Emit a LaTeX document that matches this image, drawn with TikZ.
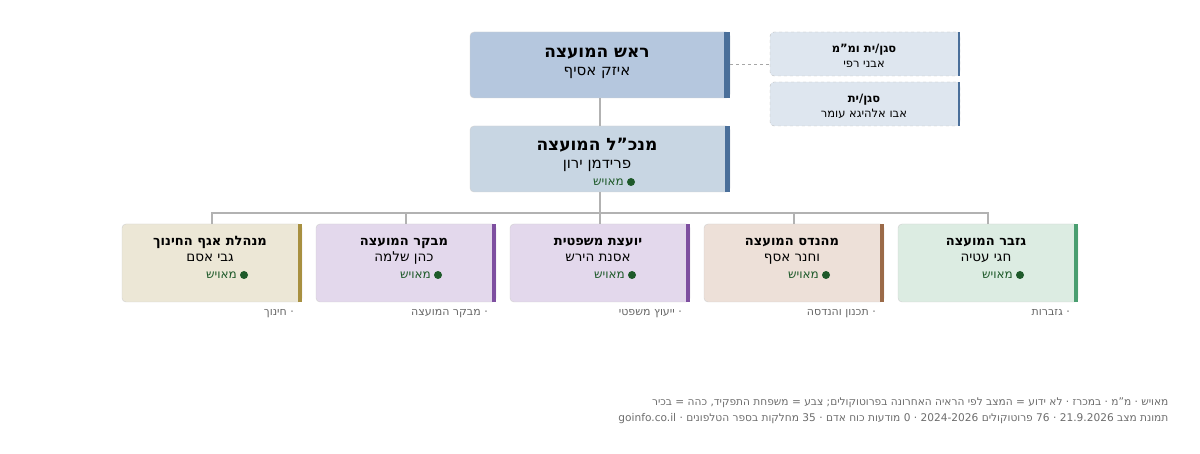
\documentclass[tikz,border=0pt]{standalone}
\usepackage{fontspec}
\setmainfont{DejaVu Sans}
\TeXXeTstate=1
\newcommand{\heb}[1]{\beginR #1\endR}
\newcommand{\ltr}[1]{\beginL #1\endL}
\newcommand{\qq}{\char34\relax}
\definecolor{stat}{HTML}{1E5A2A}
\definecolor{bord}{HTML}{D0D0D0}
\definecolor{sidef}{HTML}{DEE6EF}
\definecolor{topf}{HTML}{B5C7DE}
\definecolor{ceof}{HTML}{C8D6E3}
\definecolor{blueb}{HTML}{4A6F9A}
\definecolor{fa}{HTML}{ECE7D6}\definecolor{ba}{HTML}{A89040}
\definecolor{fb}{HTML}{E3D8EC}\definecolor{bb}{HTML}{7E4FA0}
\definecolor{fc}{HTML}{E3D8EC}\definecolor{bc}{HTML}{7E4FA0}
\definecolor{fd}{HTML}{EDE0D8}\definecolor{bd}{HTML}{9B6A48}
\definecolor{fe}{HTML}{DCECE2}\definecolor{be}{HTML}{4A9E70}
\begin{document}
\begin{tikzpicture}[x=1pt,y=-1pt,
  box/.style={draw=bord,rounded corners=4pt,inner sep=0pt},
  big/.style={box,minimum width=260pt,minimum height=66pt},
  small/.style={box,minimum width=180pt,minimum height=78pt},
  side/.style={box,dashed,draw=gray!50,fill=sidef,minimum width=190pt,minimum height=44pt},
  t/.style={inner sep=0pt,anchor=base},
  conn/.style={draw=gray!60,line width=1.1pt},
  lab/.style={anchor=base east,inner sep=0pt,font=\fontsize{11}{13}\selectfont,text=gray!80!black},
  st/.style={inner sep=0pt,anchor=base east,text=stat,font=\fontsize{12}{14}\selectfont}]
\useasboundingbox (0,0) rectangle (1200,454);
% top
\node[big,fill=topf] (top) at (600,65) {};
\fill[blueb] ([xshift=-6pt]top.north east) rectangle (top.south east);
\node[t,font=\fontsize{17}{20}\selectfont\bfseries] (topt) at (597,58) {\heb{ראש המועצה}};
\node[t,font=\fontsize{15}{18}\selectfont] (topn) at (597,76) {\heb{איזק אסיף}};
\node[side] (s1) at (865,54) {};
\fill[blueb] ([xshift=-2pt]s1.north east) rectangle (s1.south east);
\node[t,font=\fontsize{11.5}{14}\selectfont\bfseries] (s1t) at (864,53) {\heb{סגן/ית ומ\qq מ}};
\node[t,font=\fontsize{11.5}{14}\selectfont] (s1n) at (864,68) {\heb{אבני רפי}};
\node[side] (s2) at (865,104) {};
\fill[blueb] ([xshift=-2pt]s2.north east) rectangle (s2.south east);
\node[t,font=\fontsize{11.5}{14}\selectfont\bfseries] (s2t) at (864,103) {\heb{סגן/ית}};
\node[t,font=\fontsize{11.5}{14}\selectfont] (s2n) at (864,118) {\heb{אבו אלהיגא עומר}};
\draw[dashed,draw=gray!70,line width=1pt] (top.east) -- (s1.west |- top.east);
% ceo
\node[big,fill=ceof] (ceo) at (600,159) {};
\fill[blueb] ([xshift=-5pt]ceo.north east) rectangle (ceo.south east);
\node[t,font=\fontsize{17}{20}\selectfont\bfseries] (ceot) at (597,151) {\heb{מנכ\qq ל המועצה}};
\node[t,font=\fontsize{15}{18}\selectfont] (ceon) at (597,169) {\heb{פרידמן ירון}};
\node[st] (ceos) at (624,186) {\heb{מאויש}};
\fill[stat] (631,182) circle (4pt);
\draw[conn] (top.south) -- (ceo.north);
% bottom
\foreach \n/\x/\t/\m/\l in {
 a/212/מנהלת אגף החינוך/גבי אסם/חינוך,
 b/406/מבקר המועצה/כהן שלמה/מבקר המועצה,
 c/600/יועצת משפטית/אסנת הירש/ייעוץ משפטי,
 d/794/מהנדס המועצה/וחנר אסף/תכנון והנדסה,
 e/988/גזבר המועצה/חגי עטיה/גזברות}{
 \node[small,fill=f\n] (\n) at (\x,263) {};
 \fill[b\n] ([xshift=-4pt]\n.north east) rectangle (\n.south east);
 \node[t,font=\fontsize{13}{16}\selectfont\bfseries] (\n t) at (\x-2,246) {\heb{\t}};
 \node[t,font=\fontsize{13.5}{16}\selectfont] (\n n) at (\x-2,262) {\heb{\m}};
 \node[st] (\n s) at (\x+25,279) {\heb{מאויש}};
 \fill[stat] (\x+32,275) circle (4pt);
 \draw[conn] (ceo.south) |- (\x,213) -- (\n.north);
 \node[lab] (l\n) at (\x+82,316) {\heb{\l}~·};
}
% footer
\node[anchor=east,font=\fontsize{10.6}{13}\selectfont,text=gray!85!black] (f1) at (1172,403) {\heb{מאויש · מ\qq מ · במכרז · לא ידוע = המצב לפי הראיה האחרונה בפרוטוקולים; צבע = משפחת התפקיד, כהה = בכיר}};
\node[anchor=east,font=\fontsize{10.6}{13}\selectfont,text=gray!85!black] (f2) at (1172,419) {\heb{תמונת מצב \ltr{21.9.2026} · \ltr{76} פרוטוקולים \ltr{2024-2026} · \ltr{0} מודעות כוח אדם · \ltr{35} מחלקות בספר הטלפונים · \ltr{goinfo.co.il}}};
\end{tikzpicture}
\end{document}
